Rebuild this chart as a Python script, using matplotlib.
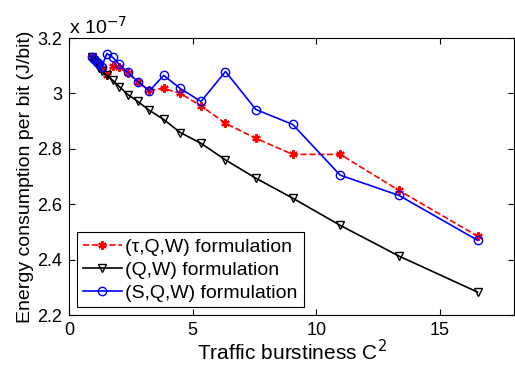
import numpy as np
import matplotlib.pyplot as plt

plt.rcParams['font.family'] = ['Liberation Sans', 'DejaVu Sans']

# traffic burstiness C^2
c2 = [0.93, 1.0, 1.12, 1.2, 1.33, 1.53, 1.77, 2.03, 2.38, 2.78, 3.25, 3.83, 4.5,
      5.34, 6.33, 7.56, 9.05, 10.97, 13.35, 16.53]

# energy per bit, units of 1e-7 J/bit
tau_qw = [3.13, 3.125, 3.115, 3.105, 3.09, 3.065, 3.10, 3.094, 3.072, 3.043, 3.011,
          3.018, 3.0, 2.955, 2.892, 2.838, 2.78, 2.78, 2.65, 2.485]
qw = [3.13, 3.118, 3.105, 3.093, 3.08, 3.065, 3.047, 3.025, 2.996, 2.971, 2.939,
      2.906, 2.859, 2.82, 2.76, 2.694, 2.622, 2.524, 2.413, 2.283]
sqw = [3.133, 3.126, 3.115, 3.108, 3.097, 3.144, 3.13, 3.105, 3.076, 3.043, 3.009,
       3.065, 3.018, 2.971, 3.079, 2.942, 2.888, 2.705, 2.632, 2.47]

fig = plt.figure(figsize=(5.15, 3.69), dpi=100)
ax = fig.add_axes([0.134, 0.146, 0.864, 0.751])

ax.plot(c2, tau_qw, 'r--', marker=(6, 2, 0), markersize=6, mew=1.6, lw=1.2,
        label='(\u03c4,Q,W) formulation')
ax.plot(c2, qw, 'k-', marker='v', markersize=6, mfc='none', lw=1.2,
        label='(Q,W) formulation')
ax.plot(c2, sqw, 'b-', marker='o', markersize=6, mfc='none', lw=1.2,
        label='(S,Q,W) formulation')

ax.set_xlim(0, 18)
ax.set_ylim(2.2, 3.2)
ax.set_xticks([0, 5, 10, 15])
ax.set_yticks([2.2, 2.4, 2.6, 2.8, 3.0, 3.2])
ax.set_yticklabels(['2.2', '2.4', '2.6', '2.8', '3', '3.2'])
ax.tick_params(direction='in', top=True, right=True, labelsize=13, length=4, pad=5)

ax.set_xlabel('Traffic burstiness C$^2$', fontsize=15, labelpad=0)
ax.set_ylabel('Energy consumption per bit (J/bit)', fontsize=14, labelpad=2)
ax.text(0.0, 1.0, 'x 10$^{-7}$', transform=ax.transAxes, fontsize=14,
        ha='left', va='bottom')

leg = ax.legend(loc='lower left', fontsize=14, fancybox=False, framealpha=1,
                edgecolor='k', handlelength=2, handletextpad=0.2,
                borderpad=0.3, labelspacing=0.27, borderaxespad=0.4)
leg.get_frame().set_linewidth(0.8)

fig.savefig('out.png', dpi=100)
